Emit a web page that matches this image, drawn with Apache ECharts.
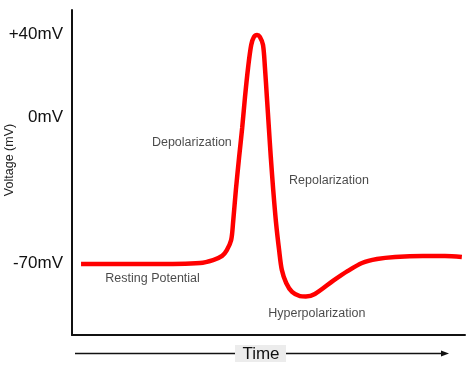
<!DOCTYPE html>
<html>
<head>
<meta charset="utf-8">
<script src="https://cdn.jsdelivr.net/npm/echarts@6/dist/echarts.min.js"></script>
<style>
html,body{margin:0;padding:0;background:#fff;}
#chart{width:474px;height:369px;}
</style>
</head>
<body>
<div id="chart"></div>
<script>
// Time (arbitrary ms units) and membrane voltage (mV)
var timeVals = [0.23, 1.99, 3.26, 3.59, 3.82, 3.94, 4.05, 4.10, 4.17, 4.25, 4.33, 4.40, 4.48, 4.56, 4.63, 4.71,
                4.78, 4.86, 4.91, 4.96, 5.01, 5.06, 5.12, 5.19, 5.27, 5.34, 5.45, 5.60, 5.80, 5.95, 6.18, 6.64,
                7.02, 7.38, 7.76, 8.22, 8.93, 9.49, 9.92];
var voltageVals = [-70.5, -70.5, -70.0, -68.6, -66.6, -63.8, -59.0, -50.3, -34.9, -19.6, -5.2, 9.3, 23.7, 34.7, 38.6, 39.5,
                   38.6, 34.7, 23.7, 9.3, -5.2, -19.6, -34.9, -50.3, -63.8, -73.4, -79.6, -83.9, -85.9, -86.1, -84.9, -78.6,
                   -73.8, -70.0, -68.1, -67.1, -66.6, -66.6, -67.1];
var yTickValues = [40, 0, -70];
var annotationText = ['Depolarization', 'Repolarization', 'Resting Potential', 'Hyperpolarization'];
var annotationTime = [3.05, 6.54, 2.05, 6.23];
var annotationVolt = [-12.4, -30.6, -77.7, -94.5];
var yAxisTitle = 'Voltage (mV)';
var xAxisTitle = 'Time';

var chart = echarts.init(document.getElementById('chart'), null, {renderer: 'canvas'});
var FONT = '"Liberation Sans", Arial, Helvetica, sans-serif';

var lineData = timeVals.map(function (t, i) { return [t, voltageVals[i]]; });
var annData = annotationText.map(function (s, i) { return {value: [annotationTime[i], annotationVolt[i]], name: s}; });

chart.setOption({
  animation: false,
  backgroundColor: '#fff',
  grid: {left: 72, right: 9, top: 10, bottom: 34, containLabel: false},
  xAxis: {
    type: 'value', min: 0, max: 10,
    axisLine: {show: true, onZero: false, lineStyle: {color: '#111', width: 2}},
    axisTick: {show: false}, axisLabel: {show: false}, splitLine: {show: false}
  },
  yAxis: {
    type: 'value', min: -104.6, max: 51.5,
    axisLine: {show: true, onZero: false, lineStyle: {color: '#111', width: 2}},
    axisTick: {show: false},
    splitLine: {show: false},
    axisLabel: {
      show: true, customValues: yTickValues, margin: 9,
      fontFamily: FONT, fontSize: 17, color: '#111',
      formatter: function (v) { return (v > 0 ? '+' : '') + v + 'mV'; }
    }
  },
  series: [
    {
      type: 'line', data: lineData, smooth: 0.3, showSymbol: false, silent: true,
      lineStyle: {color: '#ff0000', width: 4.5}
    },
    {
      type: 'scatter', data: annData, symbolSize: 0, silent: true,
      label: {
        show: true, position: 'inside', formatter: '{b}',
        fontFamily: FONT, fontSize: 12.5, color: '#1a1a1a'
      }
    }
  ],
  graphic: [
    {
      type: 'text', rotation: Math.PI / 2, x: 10, y: 160,
      style: {text: yAxisTitle, font: '12.5px ' + FONT, fill: '#222', textAlign: 'center', textVerticalAlign: 'middle'}
    },
    {
      type: 'line', shape: {x1: 75, y1: 353.5, x2: 445, y2: 353.5},
      style: {stroke: '#111', lineWidth: 1.3}
    },
    {
      type: 'polygon', shape: {points: [[449, 353.5], [441, 350.5], [441, 356.5]]},
      style: {fill: '#111'}
    },
    {
      type: 'rect', shape: {x: 235, y: 345, width: 51, height: 17},
      style: {fill: '#ececec'}
    },
    {
      type: 'text', x: 261, y: 354,
      style: {text: xAxisTitle, font: '17px ' + FONT, fill: '#111', textAlign: 'center', textVerticalAlign: 'middle'}
    }
  ]
});
</script>
</body>
</html>
